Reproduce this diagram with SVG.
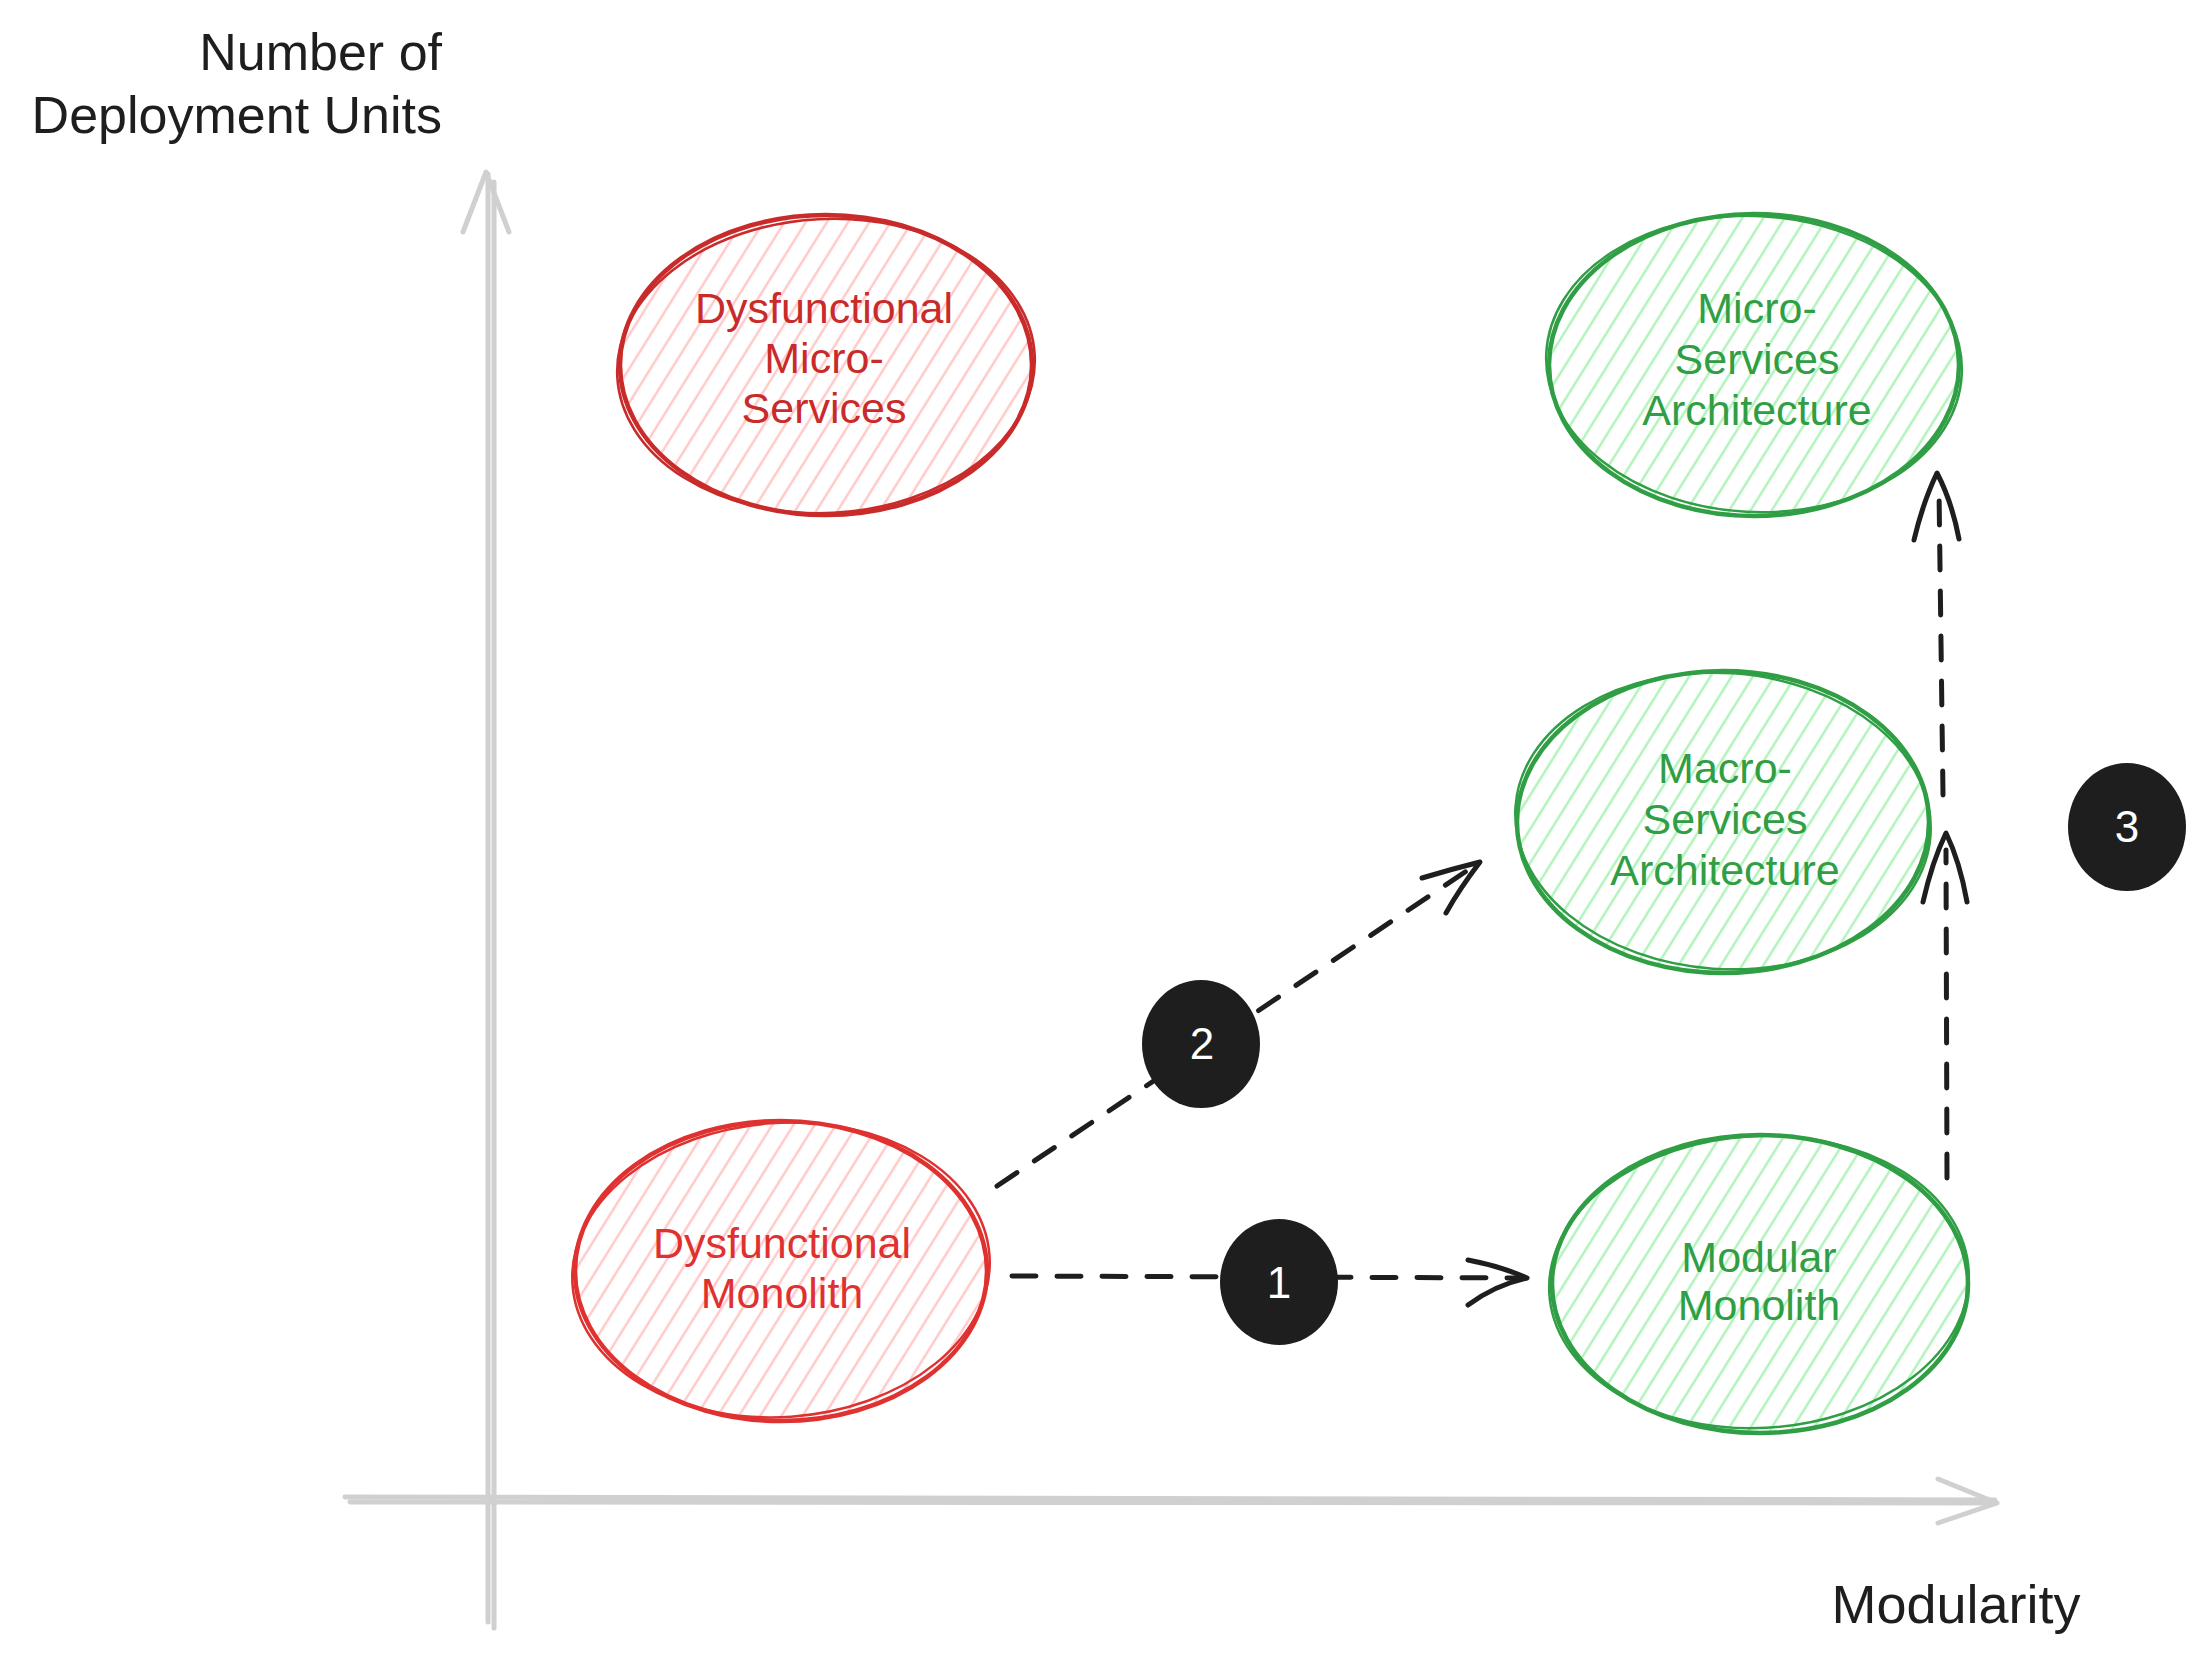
<svg xmlns="http://www.w3.org/2000/svg" width="2206" height="1664" viewBox="0 0 2206 1664">
  <style>
    .axis { stroke:#d0d0d0; stroke-width:5; fill:none; stroke-linecap:round; stroke-linejoin:round; }
    .conn { stroke:#1e1e1e; stroke-width:5; fill:none; stroke-linecap:round; stroke-dasharray:24 21; }
    .head { stroke:#1e1e1e; stroke-width:5; fill:none; stroke-linecap:round; stroke-linejoin:round; }
    .lbl { font-family:"Liberation Sans", Arial, sans-serif; font-size:52px; fill:#1e1e1e; }
    .node { font-family:"Liberation Sans", Arial, sans-serif; font-size:43px; text-anchor:middle; }
    .s-red1 { stroke:#c92a2a; }
    .s-red2 { stroke:#e03131; }
    .s-grn { stroke:#2f9e44; }
    .t-red1 { fill:#c92a2a; }
    .t-red2 { fill:#e03131; }
    .t-grn { fill:#2f9e44; }
    .f-red { fill:url(#hatch-red); }
    .f-grn { fill:url(#hatch-green); }
    .outline { stroke-width:4.5; }
    .outline2 { stroke-width:2.5; fill:none; }
    .badge { fill:#1e1e1e; }
    .num { font-family:"Liberation Sans", Arial, sans-serif; font-size:44px; fill:#ffffff; text-anchor:middle; }
  </style>
  <defs>
    <pattern id="hatch-red" patternUnits="userSpaceOnUse" width="18" height="18" patternTransform="rotate(32)">
      <line x1="9" y1="0" x2="9" y2="18" stroke="#ffc9c9" stroke-width="2.5"/>
    </pattern>
    <pattern id="hatch-green" patternUnits="userSpaceOnUse" width="18" height="18" patternTransform="rotate(32)">
      <line x1="9" y1="0" x2="9" y2="18" stroke="#b2f2bb" stroke-width="2.5"/>
    </pattern>
  </defs>
  <rect width="2206" height="1664" fill="#ffffff"/>

  <!-- axes -->
  <g id="axes">
    <line class="axis" x1="488" y1="174" x2="488" y2="1622"/>
    <line class="axis" x1="494" y1="182" x2="494" y2="1628"/>
    <path class="axis" d="M463 232 L486 172 L509 232"/>
    <line class="axis" x1="345" y1="1497" x2="1995" y2="1500"/>
    <line class="axis" x1="350" y1="1502" x2="1990" y2="1503"/>
    <path class="axis" d="M1938 1479 L1997 1503 L1938 1523"/>
  </g>

  <!-- axis labels -->
  <g id="axis-labels">
    <text class="lbl" x="442" y="70" text-anchor="end">Number of</text>
    <text class="lbl" x="442" y="133" text-anchor="end">Deployment Units</text>
    <text class="lbl" x="1956" y="1623" text-anchor="middle" style="font-size:54px">Modularity</text>
  </g>

  <!-- nodes -->
  <g id="node-dysfunctional-microservices">
    <ellipse class="s-red1 f-red outline" cx="826" cy="365" rx="206" ry="150"/>
    <ellipse class="s-red1 outline2" cx="826" cy="366" rx="209" ry="147" transform="rotate(-3 826 366)"/>
    <text class="node t-red1" x="824" y="323">Dysfunctional</text>
    <text class="node t-red1" x="824" y="373">Micro-</text>
    <text class="node t-red1" x="824" y="423">Services</text>
  </g>

  <g id="node-microservices-architecture">
    <ellipse class="s-grn f-grn outline" cx="1754" cy="365" rx="205" ry="151"/>
    <ellipse class="s-grn outline2" cx="1754" cy="364" rx="208" ry="148" transform="rotate(3 1754 364)"/>
    <text class="node t-grn" x="1757" y="323">Micro-</text>
    <text class="node t-grn" x="1757" y="374">Services</text>
    <text class="node t-grn" x="1757" y="425">Architecture</text>
  </g>

  <g id="node-macroservices-architecture">
    <ellipse class="s-grn f-grn outline" cx="1723" cy="822" rx="206" ry="151"/>
    <ellipse class="s-grn outline2" cx="1723" cy="821" rx="208" ry="148" transform="rotate(4 1723 821)"/>
    <text class="node t-grn" x="1725" y="783">Macro-</text>
    <text class="node t-grn" x="1725" y="834">Services</text>
    <text class="node t-grn" x="1725" y="885">Architecture</text>
  </g>

  <g id="node-dysfunctional-monolith">
    <ellipse class="s-red2 f-red outline" cx="781" cy="1271" rx="206" ry="150"/>
    <ellipse class="s-red2 outline2" cx="781" cy="1270" rx="209" ry="147" transform="rotate(-4 781 1270)"/>
    <text class="node t-red2" x="782" y="1258">Dysfunctional</text>
    <text class="node t-red2" x="782" y="1308">Monolith</text>
  </g>

  <g id="node-modular-monolith">
    <ellipse class="s-grn f-grn outline" cx="1760" cy="1284" rx="208" ry="149"/>
    <ellipse class="s-grn outline2" cx="1759" cy="1282" rx="210" ry="146" transform="rotate(-3 1759 1282)"/>
    <text class="node t-grn" x="1759" y="1272">Modular</text>
    <text class="node t-grn" x="1759" y="1320">Monolith</text>
  </g>

  <!-- connectors -->
  <g id="connectors">
    <line class="conn" x1="1012" y1="1276" x2="1522" y2="1278"/>
    <path class="head" d="M1468 1260 Q1500 1266 1527 1278 Q1495 1285 1468 1305"/>

    <line class="conn" x1="997" y1="1186" x2="1474" y2="866"/>
    <path class="head" d="M1422 878 Q1452 869 1480 862 Q1460 888 1446 913"/>

    <line class="conn" x1="1947" y1="1178" x2="1946" y2="850"/>
    <path class="head" d="M1923 902 Q1932 862 1946 833 Q1960 862 1967 902"/>

    <line class="conn" x1="1943" y1="795" x2="1939" y2="490"/>
    <path class="head" d="M1914 540 Q1923 502 1937 473 Q1952 502 1959 539"/>
  </g>

  <!-- step badges -->
  <g id="badge-1">
    <ellipse class="badge" cx="1279" cy="1282" rx="59" ry="63"/>
    <text class="num" x="1279" y="1298">1</text>
  </g>
  <g id="badge-2">
    <ellipse class="badge" cx="1201" cy="1044" rx="59" ry="64"/>
    <text class="num" x="1202" y="1059">2</text>
  </g>
  <g id="badge-3">
    <ellipse class="badge" cx="2127" cy="827" rx="59" ry="64"/>
    <text class="num" x="2127" y="842">3</text>
  </g>
</svg>
